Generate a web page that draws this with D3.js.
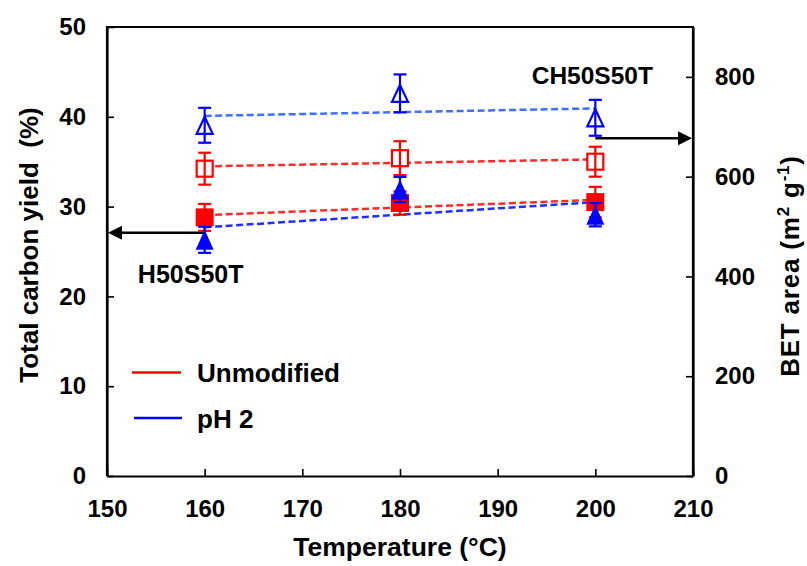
<!DOCTYPE html>
<html>
<head>
<meta charset="utf-8">
<script src="https://cdn.jsdelivr.net/npm/d3@7"></script>
<style>
  body { margin: 0; background: #fff; }
  svg { display: block; font-family: "Liberation Sans", Arial, sans-serif; font-weight: bold; }
</style>
</head>
<body>
<svg id="chart" width="807" height="566"></svg>
<script>
// ---------- data ----------
const temperatures = [160, 180, 200];
const unmodYield = [28.8, 30.4, 30.5];
const unmodYieldErr = [1.5, 1.3, 1.7];
const ph2Yield = [26.3, 31.9, 29.1];
const ph2YieldErr = [1.45, 1.4, 1.3];
const unmodBET = [616, 637, 630];
const unmodBETErr = [32, 34, 30];
const ph2BET = [703, 767, 718];
const ph2BETErr = [35, 38, 36];

const xTicks = [150, 160, 170, 180, 190, 200, 210];
const yLeftTicks = [0, 10, 20, 30, 40, 50];
const yRightTicks = [0, 200, 400, 600, 800];
const legendLabels = ["Unmodified", "pH 2"];
const annotations = [{ text: "H50S50T", x: 160, yLeft: 21.5 }, { text: "CH50S50T", x: 200, yLeft: 43.6 }];
const arrowLeft = { from: 160, to: 150, yLeft: 27.1 };
const arrowRight = { from: 200, to: 210, yRight: 677 };

// ---------- layout ----------
const svg = d3.select("#chart");
const L = 107, R = 693, T = 27, B = 476;
const x = d3.scaleLinear().domain([150, 210]).range([L, R]);
const yL = d3.scaleLinear().domain([0, 50]).range([B, T]);
const yR = d3.scaleLinear().domain([0, 900]).range([B, T]);

const RED = "#ff0000", BLUE = "#0000ff";

// ---------- axes ----------
const tickFont = 24;
function styleAxis(g) {
  g.select(".domain").attr("stroke", "#000").attr("stroke-width", 2.2);
  g.selectAll(".tick line").attr("stroke", "#000").attr("stroke-width", 1.6);
  g.selectAll(".tick text").attr("fill", "#000").style("font-size", tickFont + "px")
    .style("font-weight", "bold").style("font-family", "'Liberation Sans', Arial, sans-serif");
}
svg.append("g").attr("transform", `translate(0,${B})`)
  .call(d3.axisBottom(x).tickValues(xTicks).tickSizeInner(-7).tickSizeOuter(0).tickPadding(24))
  .call(styleAxis);
svg.append("g").attr("transform", `translate(${L},0)`)
  .call(d3.axisLeft(yL).tickValues(yLeftTicks).tickSizeInner(-7).tickSizeOuter(0).tickPadding(21))
  .call(styleAxis);
svg.append("g").attr("transform", `translate(${R},0)`)
  .call(d3.axisRight(yR).tickValues(yRightTicks).tickSizeInner(-7).tickSizeOuter(0).tickPadding(22))
  .call(styleAxis);
// frame
svg.append("line").attr("x1", L - 1).attr("x2", R + 1).attr("y1", T).attr("y2", T)
  .attr("stroke", "#000").attr("stroke-width", 2.2);
svg.append("line").attr("x1", L).attr("x2", L).attr("y1", T).attr("y2", B).attr("stroke", "#000").attr("stroke-width", 2.2);
svg.append("line").attr("x1", R).attr("x2", R).attr("y1", T).attr("y2", B).attr("stroke", "#000").attr("stroke-width", 2.2);

// axis titles
svg.append("text").attr("x", 400).attr("y", 556).attr("text-anchor", "middle")
  .style("font-size", "26.5px").text("Temperature (°C)");
svg.append("text").attr("transform", "translate(38,245) rotate(-90)").attr("text-anchor", "middle")
  .style("font-size", "26px").style("white-space", "pre").text("Total carbon yield  (%)");
const rt = svg.append("text").attr("transform", "translate(799,266) rotate(-90)").attr("text-anchor", "middle")
  .style("font-size", "26px").style("letter-spacing", "0.8px");
rt.append("tspan").text("BET area (m");
rt.append("tspan").attr("dy", -10).style("font-size", "17px").text("2");
rt.append("tspan").attr("dy", 10).text(" g");
rt.append("tspan").attr("dy", -10).style("font-size", "17px").text("-1");
rt.append("tspan").attr("dy", 10).text(")");

// ---------- trendlines (least squares from data) ----------
function fit(xs, ys) {
  const mx = d3.mean(xs), my = d3.mean(ys);
  const s = d3.sum(xs, (v, i) => (v - mx) * (ys[i] - my)) / d3.sum(xs, v => (v - mx) * (v - mx));
  return t => my + s * (t - mx);
}
function trend(vals, scale, color) {
  const f = fit(temperatures, vals);
  const x0 = temperatures[0], x1 = temperatures[temperatures.length - 1];
  svg.append("line")
    .attr("x1", x(x0)).attr("y1", scale(f(x0)))
    .attr("x2", x(x1)).attr("y2", scale(f(x1)))
    .attr("stroke", color).attr("stroke-width", 2.5).attr("stroke-dasharray", "7,3.5");
}
trend(ph2BET, yR, "#3f6fff");
trend(unmodBET, yR, "#ff2a2a");
trend(unmodYield, yL, "#ff2a2a");
trend(ph2Yield, yL, "#1f2fff");

// ---------- arrows ----------
function arrow(a, yv, scale) {
  const yy = scale(yv);
  const xs = x(a.from), xe = x(a.to);
  const dir = Math.sign(xe - xs);
  const tip = xe - dir * 1;
  const base = tip - dir * 14;
  svg.append("line").attr("x1", xs).attr("x2", base).attr("y1", yy).attr("y2", yy)
    .attr("stroke", "#000").attr("stroke-width", 2.5);
  svg.append("path").attr("d", `M${tip},${yy}L${base},${yy - 7}L${base},${yy + 7}Z`).attr("fill", "#000");
}
arrow(arrowLeft, arrowLeft.yLeft, yL);
arrow(arrowRight, arrowRight.yRight, yR);

// ---------- series ----------
function errorBars(vals, errs, scale, color) {
  const g = svg.append("g").attr("stroke", color).attr("stroke-width", 2.2);
  temperatures.forEach((t, i) => {
    const cx = x(t), yt = scale(vals[i] + errs[i]), yb = scale(vals[i] - errs[i]);
    g.append("line").attr("x1", cx).attr("x2", cx).attr("y1", yt).attr("y2", yb);
    g.append("line").attr("x1", cx - 6.5).attr("x2", cx + 6.5).attr("y1", yt).attr("y2", yt);
    g.append("line").attr("x1", cx - 6.5).attr("x2", cx + 6.5).attr("y1", yb).attr("y2", yb);
  });
}
function squares(vals, scale, color, filled, size) {
  svg.append("g").selectAll("rect").data(vals).join("rect")
    .attr("x", (d, i) => x(temperatures[i]) - size / 2)
    .attr("y", d => scale(d) - size / 2)
    .attr("width", size).attr("height", size)
    .attr("fill", filled ? color : "#fff")
    .attr("stroke", color).attr("stroke-width", filled ? 0 : 2.2);
}
function triangles(vals, scale, color, filled, w, h) {
  svg.append("g").selectAll("path").data(vals).join("path")
    .attr("d", (d, i) => {
      const cx = x(temperatures[i]), cy = scale(d);
      return `M${cx},${cy - h / 2}L${cx + w / 2},${cy + h / 2}L${cx - w / 2},${cy + h / 2}Z`;
    })
    .attr("fill", filled ? color : "#fff")
    .attr("stroke", color).attr("stroke-width", filled ? 0 : 2.2);
}

// open (BET, right axis)
triangles(ph2BET, yR, BLUE, false, 16, 17);
errorBars(ph2BET, ph2BETErr, yR, BLUE);
squares(unmodBET, yR, RED, false, 16);
errorBars(unmodBET, unmodBETErr, yR, RED);
// filled (yield, left axis)
errorBars(unmodYield, unmodYieldErr, yL, RED);
squares(unmodYield, yL, RED, true, 18);
errorBars(ph2Yield, ph2YieldErr, yL, BLUE);
triangles(ph2Yield, yL, BLUE, true, 18, 20);

// ---------- annotations ----------
svg.append("text").attr("x", x(160)).attr("y", yL(annotations[0].yLeft)).attr("text-anchor", "middle")
  .style("font-size", "25px").attr("dx", -14).text(annotations[0].text);
svg.append("text").attr("x", x(200)).attr("y", yL(annotations[1].yLeft)).attr("text-anchor", "middle")
  .style("font-size", "24.5px").attr("dx", -3).text(annotations[1].text);

// ---------- legend ----------
const legendColors = [RED, BLUE];
legendLabels.forEach((lab, i) => {
  const ly = 372.5 + i * 45.5;
  svg.append("line").attr("x1", 132 + i * 2).attr("x2", 181 + i * 1).attr("y1", ly).attr("y2", ly)
    .attr("stroke", legendColors[i]).attr("stroke-width", 2.6);
  svg.append("text").attr("x", 197).attr("y", ly + 9.5).style("font-size", "26px").text(lab);
});
</script>
</body>
</html>
